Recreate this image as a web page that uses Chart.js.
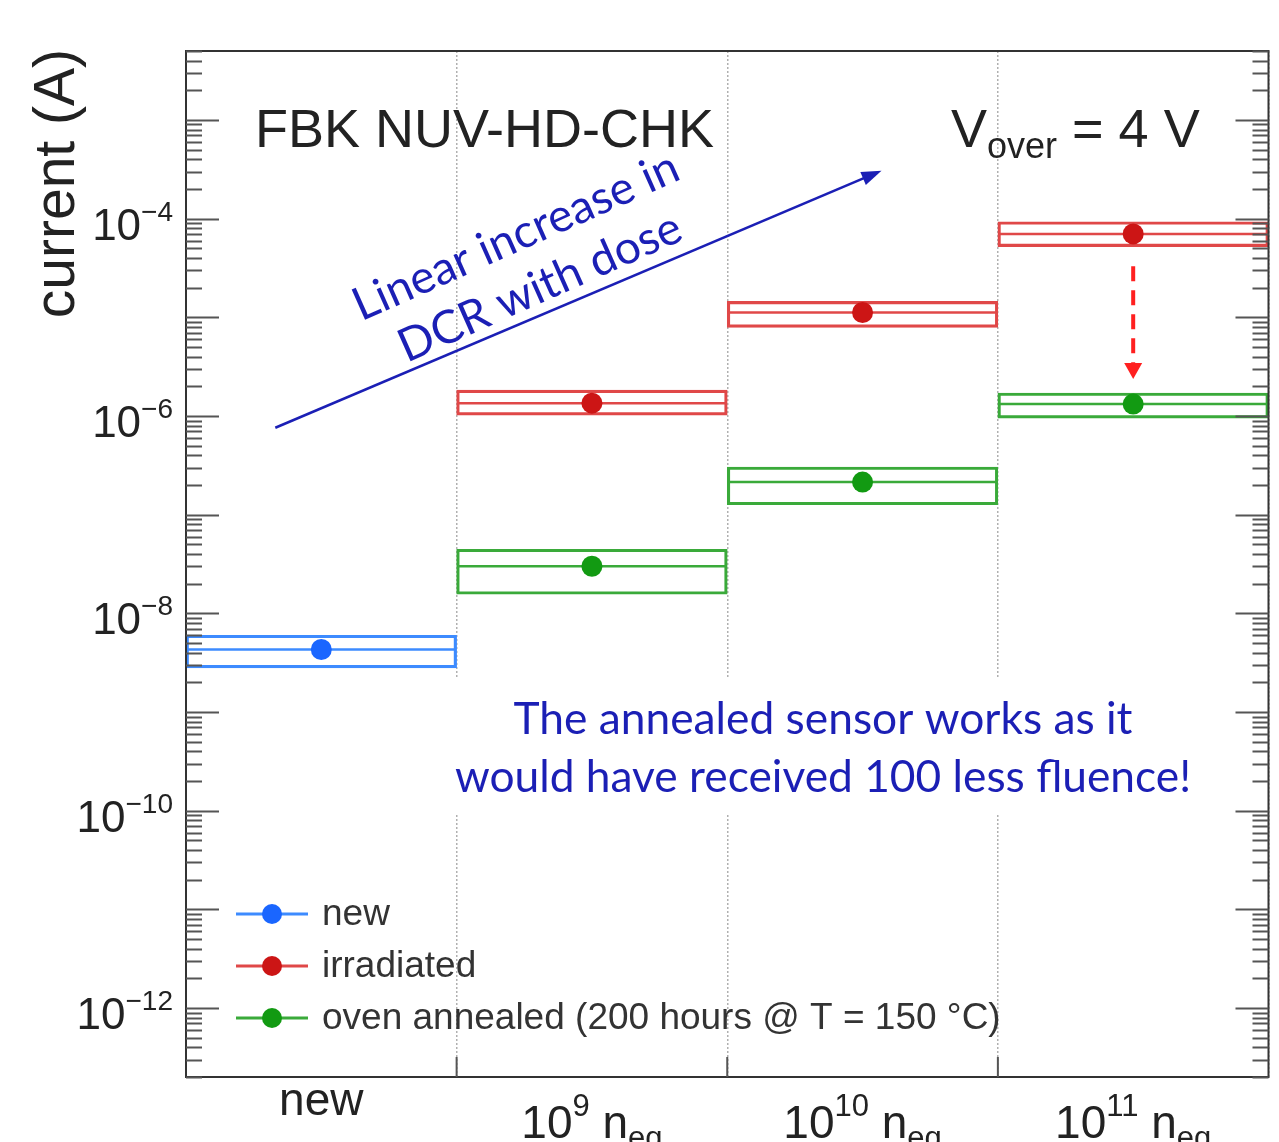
<!DOCTYPE html>
<html>
<head>
<meta charset="utf-8">
<script src="https://cdn.jsdelivr.net/npm/chart.js@4.4.1/dist/chart.umd.min.js"></script>
<style>
  html, body { margin: 0; padding: 0; background: #fff; }
  #wrap { width: 1279px; height: 1142px; position: relative; }
</style>
</head>
<body>
<div id="wrap"><canvas id="myChart"></canvas></div>
<script>
// categories on the x axis (fluence)
const categories = ['new', '10^9 n_eq', '10^10 n_eq', '10^11 n_eq'];
const fluenceExponents = ['', '9', '10', '11'];

// current (A), central value and band
const newValue = [4.3e-9, null, null, null];
const newLow = [2.8e-9, null, null, null];
const newHigh = [6.0e-9, null, null, null];

const irradiatedValue = [null, 1.35e-6, 1.12e-5, 7.0e-5];
const irradiatedLow = [null, 1.02e-6, 7.9e-6, 5.2e-5];
const irradiatedHigh = [null, 1.83e-6, 1.45e-5, 9.3e-5];

const annealedValue = [null, 3.0e-8, 2.14e-7, 1.32e-6];
const annealedLow = [null, 1.56e-8, 1.26e-7, 9.5e-7];
const annealedHigh = [null, 4.46e-8, 3.04e-7, 1.71e-6];

const seriesNames = ['new', 'irradiated', 'oven annealed (200 hours @ T = 150 °C)'];
const yLabelExponents = [-4, -6, -8, -10, -12];

const HELV = '"Liberation Sans", Arial, Helvetica, sans-serif';
const NOTE = 'Lato, "Open Sans", sans-serif';
const NOTE_COLOR = '#1b1fb5';

const toRange = (lo, hi) => lo.map((v, i) => v === null ? null : [v, hi[i]]);

const series = [
    { name: seriesNames[0], value: newValue, lo: newLow, hi: newHigh, box: '#3d8bff', dot: '#1a66ff' },
    { name: seriesNames[1], value: irradiatedValue, lo: irradiatedLow, hi: irradiatedHigh, box: '#e04848', dot: '#cc1515' },
    { name: seriesNames[2], value: annealedValue, lo: annealedLow, hi: annealedHigh, box: '#3aaa3a', dot: '#129a12' }
];

const pointSets = series.map(s => ({
    type: 'line',
    label: s.name,
    data: s.value,
    showLine: false,
    pointRadius: 10.5,
    pointHoverRadius: 10.5,
    pointBorderWidth: 0,
    pointBackgroundColor: s.dot,
    borderColor: s.box
}));

const boxSets = series.map(s => ({
    type: 'bar',
    label: s.name + ' band',
    data: toRange(s.lo, s.hi),
    centers: s.value,
    grouped: false,
    barPercentage: 1,
    categoryPercentage: 1,
    borderSkipped: false,
    borderWidth: 2.5,
    borderColor: s.box,
    backgroundColor: 'rgba(0,0,0,0)'
}));

// text block that hides the grid lines
function noteBox(chart) {
    const a = chart.chartArea;
    return { x: a.left + 265, y: 678, w: 750, h: 137 };
}

const rootStyle = {
    id: 'rootStyle',
    beforeDatasetsDraw(chart) {
        const ctx = chart.ctx;
        const b = noteBox(chart);
        ctx.save();
        ctx.fillStyle = '#fff';
        ctx.fillRect(b.x, b.y, b.w, b.h);
        ctx.restore();
    },
    afterDatasetDraw(chart, args) {
        const ds = chart.data.datasets[args.index];
        if (!ds.centers) return;
        const ctx = chart.ctx;
        const y = chart.scales.y;
        ctx.save();
        ctx.strokeStyle = ds.borderColor;
        ctx.lineWidth = 2.5;
        args.meta.data.forEach((bar, j) => {
            if (ds.centers[j] === null) return;
            const p = bar.getProps(['x', 'width'], true);
            const py = y.getPixelForValue(ds.centers[j]);
            ctx.beginPath();
            ctx.moveTo(p.x - p.width / 2 + 1, py);
            ctx.lineTo(p.x + p.width / 2 - 1, py);
            ctx.stroke();
        });
        ctx.restore();
    },
    afterDraw(chart) {
        const ctx = chart.ctx;
        const a = chart.chartArea;
        const x = chart.scales.x;
        const y = chart.scales.y;
        ctx.save();

        // frame
        ctx.strokeStyle = '#333';
        ctx.lineWidth = 2;
        ctx.strokeRect(a.left, a.top, a.right - a.left, a.bottom - a.top);

        // log ticks, both sides
        ctx.strokeStyle = '#555';
        ctx.lineWidth = 2;
        for (let d = -13; d <= -3; d++) {
            for (let m = 1; m <= 9; m++) {
                const v = m * Math.pow(10, d);
                if (v < y.min * 0.999 || v > y.max * 1.001) continue;
                const py = Math.round(y.getPixelForValue(v)) + 0.5;
                const len = m === 1 ? 33 : 16;
                ctx.beginPath();
                ctx.moveTo(a.left, py); ctx.lineTo(a.left + len, py);
                ctx.moveTo(a.right, py); ctx.lineTo(a.right - len, py);
                ctx.stroke();
            }
        }

        // x ticks at category edges
        const cw = (a.right - a.left) / categories.length;
        for (let i = 1; i < categories.length; i++) {
            const px = x.getPixelForValue(i) - cw / 2;
            ctx.beginPath();
            ctx.moveTo(px, a.bottom); ctx.lineTo(px, a.bottom - 20);
            ctx.stroke();
        }

        // y labels
        ctx.fillStyle = '#222';
        ctx.textBaseline = 'alphabetic';
        yLabelExponents.forEach(e => {
            const py = y.getPixelForValue(Math.pow(10, e));
            const sup = '\u2212' + Math.abs(e);
            ctx.font = '28px ' + HELV;
            const sw = ctx.measureText(sup).width;
            ctx.textAlign = 'right';
            ctx.fillText(sup, 173, py + 2);
            ctx.font = '44px ' + HELV;
            ctx.fillText('10', 173 - sw, py + 21);
        });

        // y title
        ctx.save();
        ctx.translate(74, a.top - 2);
        ctx.rotate(-Math.PI / 2);
        ctx.font = '57px ' + HELV;
        ctx.textAlign = 'right';
        ctx.fillText('current (A)', 0, 0);
        ctx.restore();

        // x labels
        categories.forEach((c, i) => {
            const cx = x.getPixelForValue(i);
            ctx.textAlign = 'left';
            if (!fluenceExponents[i]) {
                ctx.font = '46px ' + HELV;
                const w = ctx.measureText(c).width;
                ctx.fillText(c, cx - w / 2, 1115);
                return;
            }
            const parts = [
                { t: '10', f: '46px ', dy: 0 },
                { t: fluenceExponents[i], f: '31px ', dy: -22 },
                { t: ' n', f: '46px ', dy: 0 },
                { t: 'eq', f: '31px ', dy: 10 }
            ];
            let total = 0;
            parts.forEach(p => { ctx.font = p.f + HELV; p.w = ctx.measureText(p.t).width; total += p.w; });
            let px = cx - total / 2;
            parts.forEach(p => {
                ctx.font = p.f + HELV;
                ctx.fillText(p.t, px, 1138 + p.dy);
                px += p.w;
            });
        });

        // header texts
        ctx.font = '54px ' + HELV;
        ctx.textAlign = 'left';
        ctx.fillText('FBK NUV-HD-CHK', 255, 147);
        let vx = 951;
        ctx.fillText('V', vx, 147);
        vx += ctx.measureText('V').width;
        ctx.font = '36px ' + HELV;
        ctx.fillText('over', vx, 158);
        vx += ctx.measureText('over').width;
        ctx.font = '54px ' + HELV;
        ctx.fillText(' = 4 V', vx, 147);

        // legend
        const rowY = [914, 966, 1018];
        series.forEach((s, i) => {
            const ry = rowY[i];
            ctx.strokeStyle = s.box;
            ctx.lineWidth = 3;
            ctx.beginPath();
            ctx.moveTo(236, ry); ctx.lineTo(308, ry);
            ctx.stroke();
            ctx.fillStyle = s.dot;
            ctx.beginPath();
            ctx.arc(272, ry, 10, 0, Math.PI * 2);
            ctx.fill();
            ctx.fillStyle = '#333';
            ctx.font = '37px ' + HELV;
            ctx.textBaseline = 'middle';
            ctx.fillText(s.name, 322, ry + 1);
        });
        ctx.textBaseline = 'alphabetic';

        // blue arrow: linear increase
        const x0 = x.getPixelForValue(-0.17), y0 = y.getPixelForValue(7.6e-7);
        const x1 = x.getPixelForValue(2.07), y1 = y.getPixelForValue(3.06e-4);
        const ang = Math.atan2(y1 - y0, x1 - x0);
        ctx.strokeStyle = NOTE_COLOR;
        ctx.fillStyle = NOTE_COLOR;
        ctx.lineWidth = 2.5;
        ctx.beginPath();
        ctx.moveTo(x0, y0);
        ctx.lineTo(x1 - 14 * Math.cos(ang), y1 - 14 * Math.sin(ang));
        ctx.stroke();
        ctx.beginPath();
        ctx.moveTo(x1, y1);
        ctx.lineTo(x1 - 20 * Math.cos(ang) + 7 * Math.sin(ang), y1 - 20 * Math.sin(ang) - 7 * Math.cos(ang));
        ctx.lineTo(x1 - 20 * Math.cos(ang) - 7 * Math.sin(ang), y1 - 20 * Math.sin(ang) + 7 * Math.cos(ang));
        ctx.closePath();
        ctx.fill();

        // rotated note
        const fit = (txt, target, family) => {
            ctx.font = '40px ' + family;
            return 40 * target / ctx.measureText(txt).width;
        };
        const rs = fit('Linear increase in', 352, NOTE);
        ctx.font = rs.toFixed(1) + 'px ' + NOTE;
        ctx.textAlign = 'center';
        ctx.save();
        ctx.translate(522, 250);
        ctx.rotate(-24 * Math.PI / 180);
        ctx.fillText('Linear increase in', 0, 0);
        ctx.restore();
        ctx.save();
        ctx.translate(546, 301);
        ctx.rotate(-24 * Math.PI / 180);
        ctx.fillText('DCR with dose', 0, 0);
        ctx.restore();

        // annealed note
        const ns = fit('would have received 100 less fluence!', 736, NOTE);
        ctx.font = ns.toFixed(1) + 'px ' + NOTE;
        ctx.fillText('The annealed sensor works as it', 823, 734);
        ctx.fillText('would have received 100 less fluence!', 823, 792);

        // red dashed arrow
        const ax = x.getPixelForValue(3);
        const ay0 = y.getPixelForValue(3.3e-5), ay1 = y.getPixelForValue(2.37e-6);
        ctx.strokeStyle = '#ff2020';
        ctx.fillStyle = '#ff2020';
        ctx.lineWidth = 4;
        ctx.setLineDash([15, 9]);
        ctx.beginPath();
        ctx.moveTo(ax, ay0);
        ctx.lineTo(ax, ay1 - 14);
        ctx.stroke();
        ctx.setLineDash([]);
        ctx.beginPath();
        ctx.moveTo(ax, ay1);
        ctx.lineTo(ax - 9, ay1 - 16);
        ctx.lineTo(ax + 9, ay1 - 16);
        ctx.closePath();
        ctx.fill();

        ctx.restore();
    }
};

const config = {
    type: 'bar',
    data: {
        labels: categories,
        datasets: pointSets.concat(boxSets)
    },
    options: {
        responsive: true,
        maintainAspectRatio: false,
        animation: false,
        layout: { padding: { left: 186, right: 9, top: 51, bottom: 65 } },
        scales: {
            x: {
                display: true,
                offset: true,
                ticks: { display: false },
                grid: {
                    offset: true,
                    drawTicks: false,
                    color: '#b0b0b0',
                    lineWidth: 1.5
                },
                border: { display: false, dash: [2, 2] }
            },
            y: {
                type: 'logarithmic',
                display: false,
                min: 2e-13,
                max: 5e-3
            }
        },
        plugins: {
            legend: { display: false },
            tooltip: { enabled: false }
        }
    },
    plugins: [rootStyle]
};

const myChart = new Chart(document.getElementById('myChart'), config);
</script>
</body>
</html>
